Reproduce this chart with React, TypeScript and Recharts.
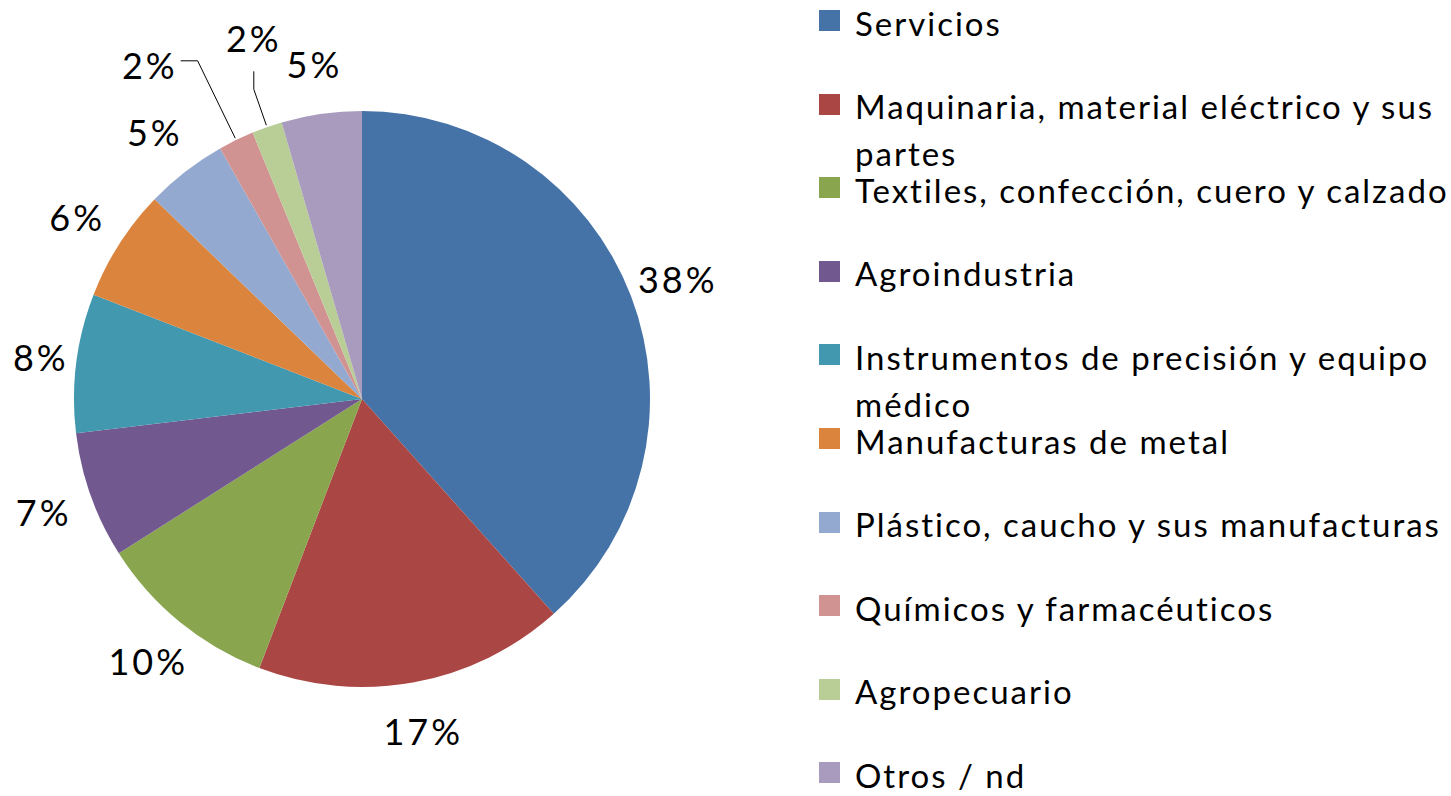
import { PieChart, Pie, Cell, Legend } from "recharts";

const categories = [
  "Servicios",
  "Maquinaria, material eléctrico y sus partes",
  "Textiles, confección, cuero y calzado",
  "Agroindustria",
  "Instrumentos de precisión y equipo médico",
  "Manufacturas de metal",
  "Plástico, caucho y sus manufacturas",
  "Químicos y farmacéuticos",
  "Agropecuario",
  "Otros / nd",
];

const shares = [38.4, 17.4, 10.2, 7.1, 7.8, 6.3, 4.6, 2.0, 1.7, 4.5];

const COLORS = [
  "#4572a7",
  "#aa4643",
  "#89a54e",
  "#71588f",
  "#4198af",
  "#db843d",
  "#93a9cf",
  "#d19392",
  "#b9cd96",
  "#a99bbd",
];

const data = categories.map((name, i) => ({ name, value: shares[i] }));

const FONT = "Lato, 'Open Sans', sans-serif";
const RAD = Math.PI / 180;
const LABEL_SIZE = 36;

// small slices get their label pulled out with a leader line, like Excel does
const LEADERS: Record<string, { elbow: number; dx: number; dy: number }> = {
  "Químicos y farmacéuticos": { elbow: 88, dx: -17, dy: 0 },
  Agropecuario: { elbow: 40, dx: 0, dy: -18 },
};

const pt = (cx: number, cy: number, r: number, angle: number) => ({
  x: cx + r * Math.cos(angle * RAD),
  y: cy - r * Math.sin(angle * RAD),
});

function renderLabel(props: any) {
  const { cx, cy, midAngle, outerRadius, percent, name } = props;
  const text = `${Math.round(percent * 100)}%`;
  const leader = LEADERS[name];
  const style = { fontFamily: FONT, fontSize: LABEL_SIZE, letterSpacing: 3, fill: "#000" };

  if (leader) {
    const a = pt(cx, cy, outerRadius + 2, midAngle);
    const b = pt(cx, cy, outerRadius + leader.elbow, midAngle);
    const c = { x: b.x + leader.dx, y: b.y + leader.dy };
    const horizontal = leader.dx !== 0;
    return (
      <g>
        <polyline
          points={`${a.x},${a.y} ${b.x},${b.y} ${c.x},${c.y}`}
          fill="none"
          stroke="#000"
          strokeWidth={1}
        />
        <text
          x={horizontal ? c.x - 3 : c.x}
          y={horizontal ? c.y + 4 : c.y - 33}
          textAnchor={horizontal ? "end" : "middle"}
          dominantBaseline="central"
          style={style}
        >
          {text}
        </text>
      </g>
    );
  }

  const p = pt(cx, cy, outerRadius + 50, midAngle);
  // keep the label inside the chart area
  const half = text.length * LABEL_SIZE * 0.4;
  const x = Math.max(p.x, half + 12);
  return (
    <text x={x} y={p.y} textAnchor="middle" dominantBaseline="central" style={style}>
      {text}
    </text>
  );
}

function LegendBox() {
  return (
    <div style={{ position: "relative", width: 631, height: 796 }}>
      {categories.map((name, i) => (
        <div
          key={name}
          style={{ position: "absolute", left: 0, top: -0.5 + i * 83.6, width: 631 }}
        >
          <div
            style={{
              position: "absolute",
              left: 9,
              top: 10.5,
              width: 21,
              height: 21,
              background: COLORS[i],
            }}
          />
          <div
            style={{
              marginLeft: 45,
              width: 596,
              fontFamily: FONT,
              fontSize: 33,
              lineHeight: "47px",
              letterSpacing: 2,
              color: "#000",
            }}
          >
            {name}
          </div>
        </div>
      ))}
    </div>
  );
}

export default function App() {
  return (
    <div style={{ position: "absolute", left: 0, top: 0, width: 1451, height: 796, background: "#fff" }}>
      <PieChart width={1451} height={796} margin={{ top: 0, right: 0, bottom: 0, left: 0 }}>
        <Pie
          data={data}
          dataKey="value"
          nameKey="name"
          cx={362}
          cy={399}
          outerRadius={288}
          startAngle={90}
          endAngle={-270}
          stroke="none"
          label={renderLabel}
          labelLine={false}
          isAnimationActive={false}
        >
          {data.map((entry, i) => (
            <Cell key={entry.name} fill={COLORS[i]} />
          ))}
        </Pie>
        <Legend
          layout="vertical"
          align="right"
          verticalAlign="top"
          content={() => <LegendBox />}
          wrapperStyle={{ left: 810, top: 0, width: 631, height: 796 }}
        />
      </PieChart>
    </div>
  );
}
